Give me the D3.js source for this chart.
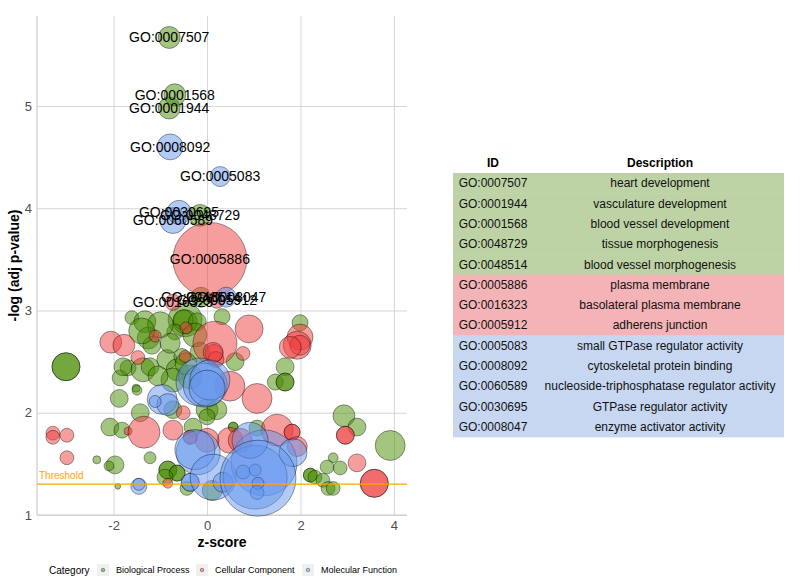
<!doctype html>
<html lang="en">
<head>
<meta charset="utf-8">
<title>GO bubble plot</title>
<script src="https://d3js.org/d3.v7.min.js"></script>
<style>
  body { margin: 0; background: #fff; }
  text { font-family: Arial, "Liberation Sans", sans-serif; }
</style>
</head>
<body>
<script>
// categories and colours
var categories = ["Biological Process", "Cellular Component", "Molecular Function"];
var catColors  = ["#458B00", "#EE3B3B", "#6495ED"];
var rowColors  = ["#BDD3A6", "#F4B3B6", "#C7D7F2"];

// labelled terms (table rows)
var termIds   = ["GO:0007507","GO:0001944","GO:0001568","GO:0048729","GO:0048514",
                 "GO:0005886","GO:0016323","GO:0005912",
                 "GO:0005083","GO:0008092","GO:0060589","GO:0030695","GO:0008047"];
var termNames = ["heart development","vasculature development","blood vessel development",
                 "tissue morphogenesis","blood vessel morphogenesis",
                 "plasma membrane","basolateral plasma membrane","adherens junction",
                 "small GTPase regulator activity","cytoskeletal protein binding",
                 "nucleoside-triphosphatase regulator activity","GTPase regulator activity",
                 "enzyme activator activity"];
var termCat   = [0,0,0,0,0, 1,1,1, 2,2,2,2,2];
var termZ     = [-0.81,-0.81,-0.69,-0.15,-0.13, 0.06,-0.73,0.21, 0.28,-0.79,-0.73,-0.60,0.41];
var termLogP  = [5.67,4.98,5.11,3.93,3.13, 3.50,3.08,3.10, 4.31,4.60,3.88,3.96,3.13];
var termCount = [30,30,30,30,25, 342,16,16, 25,42,42,36,25];

// other terms: [z-score, -log adj p, count]
var bpPoints = [
  [-1.61,2.93,12],[-1.33,2.89,30],[-1.26,2.73,30],[-1.18,2.66,20],[-0.47,2.91,72],
  [-0.47,2.89,36],[-0.51,2.91,25],[-0.69,2.79,16],[0.32,2.94,16],[-0.21,2.89,20],
  [1.99,2.88,16],[0.60,2.50,20],[1.67,2.45,20],[1.46,2.30,16],[1.67,2.30,20],
  [1.67,2.30,20],[-3.02,2.45,49],[-3.02,2.45,49],[-1.86,2.34,16],[-1.52,2.24,4],
  [-1.88,2.14,20],[-1.69,2.44,16],[-1.80,2.45,20],[-1.37,2.42,36],[-1.22,2.45,20],
  [-0.86,2.52,25],[-0.64,2.42,30],[-0.73,2.32,36],[-0.36,2.35,36],[-0.54,2.55,16],
  [-1.50,2.22,6],[0.00,2.03,30],[-2.08,1.86,20],[-1.82,1.83,16],[-2.36,1.54,4],
  [-1.97,1.49,20],[-2.10,1.48,6],[-1.22,1.56,9],[-1.91,1.28,2],[-1.43,2.00,20],
  [-0.84,1.44,20],[-0.84,1.44,20],[-0.64,1.41,16],[-0.64,1.41,16],[-0.90,1.37,16],
  [0.56,1.86,6],[0.56,1.86,6],[0.21,2.03,25],[0.00,1.96,16],[-0.73,2.03,20],
  [2.93,1.97,30],[3.21,1.86,20],[3.92,1.68,56],[2.70,1.56,6],[2.57,1.47,12],
  [2.85,1.46,12],[2.21,1.39,12],[2.21,1.39,12],[2.31,1.37,12],[2.48,1.34,12],
  [2.59,1.26,12],[2.70,1.26,12],[1.07,1.85,16],[0.11,1.24,25],[-0.43,1.26,12],
  [-1.00,2.86,42],[-0.26,2.76,36],[-0.15,2.59,25],[-0.79,2.68,25],[-1.40,2.80,42],
  [-0.45,2.48,30],[-1.05,2.36,25],[-0.30,1.86,20]
];
var ccPoints = [
  [-1.11,2.75,9],[-0.45,2.83,9],[-2.06,2.69,30],[-1.78,2.66,30],[0.90,2.82,49],
  [0.17,2.68,121],[0.15,2.58,20],[0.19,2.52,16],[0.77,2.58,12],[0.13,2.59,25],
  [1.99,2.74,42],[1.93,2.66,49],[1.99,2.66,25],[1.78,2.64,30],[1.07,2.14,56],
  [-1.48,2.54,12],[-0.47,2.55,9],[0.49,2.26,56],[-3.30,1.80,12],[-3.30,1.76,12],
  [-3.00,1.78,12],[-3.00,1.56,12],[-1.69,1.82,4],[-1.35,1.81,64],[-0.84,1.31,6],
  [-0.51,2.00,12],[0.49,1.73,42],[0.00,1.73,36],[1.50,1.83,64],[1.82,1.81,16],
  [1.82,1.81,16],[1.93,1.67,25],[-0.36,1.76,12],[-0.36,1.76,12],[2.96,1.78,20],
  [2.96,1.78,20],[3.21,1.51,20],[3.58,1.31,49],[3.58,1.31,49],[-0.73,1.83,25],
  [0.71,1.73,36]
];
var mfPoints = [
  [-0.96,2.13,56],[-0.84,2.08,30],[-1.11,2.11,9],[-0.15,2.30,144],[-0.04,2.27,121],
  [0.06,2.32,100],[0.00,2.24,81],[-1.46,1.28,16],[-1.46,1.30,9],[-0.36,1.32,20],
  [-0.36,1.32,20],[-0.19,1.61,121],[-0.26,1.64,100],[0.13,1.37,132],[0.34,1.32,25],
  [1.22,1.51,272],[1.03,1.37,256],[0.92,1.73,81],[1.84,1.61,49],[0.77,1.42,12],
  [1.03,1.44,9],[1.09,1.31,9],[1.09,1.31,9],[1.07,1.22,12],[1.09,1.36,361]
];

var xTicks = [-2, 0, 2, 4];
var yTicks = [1, 2, 3, 4, 5];
var threshold = -Math.log10(0.05);

var W = 812, H = 586;
var panel = {left: 37, right: 407, top: 16, bottom: 515};

var svg = d3.select("body").append("svg")
  .attr("width", W).attr("height", H);

var x = d3.scaleLinear().domain([-3.64, 4.28]).range([panel.left, panel.right]);
var y = d3.scaleLinear().domain([1, 5.88]).range([panel.bottom, panel.top]);
var r = d3.scaleSqrt().domain([0, 400]).range([0, 40]);

// grid
var g = svg.append("g");
g.append("g").attr("transform", "translate(0," + panel.bottom + ")")
  .call(d3.axisBottom(x).tickValues(xTicks).tickSize(-(panel.bottom - panel.top)).tickFormat(""))
  .call(a => a.select(".domain").remove())
  .selectAll("line").attr("stroke", "#D6D6D6").attr("stroke-width", 1);
g.append("g").attr("transform", "translate(" + panel.left + ",0)")
  .call(d3.axisLeft(y).tickValues(yTicks).tickSize(-(panel.right - panel.left)).tickFormat(""))
  .call(a => a.select(".domain").remove())
  .selectAll("line").attr("stroke", "#D6D6D6").attr("stroke-width", 1);

// axis lines
svg.append("line").attr("x1", panel.left).attr("x2", panel.left)
  .attr("y1", panel.top).attr("y2", panel.bottom).attr("stroke", "#CCCCCC").attr("stroke-width", 1.2);
svg.append("line").attr("x1", panel.left).attr("x2", panel.right)
  .attr("y1", panel.bottom).attr("y2", panel.bottom).attr("stroke", "#CCCCCC").attr("stroke-width", 1.2);

// tick labels
var xa = svg.append("g").attr("transform", "translate(0," + panel.bottom + ")")
  .call(d3.axisBottom(x).tickValues(xTicks).tickSize(0).tickPadding(6).tickFormat(d3.format("d")));
xa.select(".domain").remove();
xa.selectAll("text").attr("font-size", 13).attr("fill", "#4D4D4D")
  .attr("font-family", "Arial, 'Liberation Sans', sans-serif")
  .text(d => d < 0 ? "-" + Math.abs(d) : d);

var ya = svg.append("g").attr("transform", "translate(" + panel.left + ",0)")
  .call(d3.axisLeft(y).tickValues(yTicks).tickSize(0).tickPadding(5).tickFormat(d3.format("d")));
ya.select(".domain").remove();
ya.selectAll("text").attr("font-size", 13).attr("fill", "#4D4D4D")
  .attr("font-family", "Arial, 'Liberation Sans', sans-serif");

// axis titles
svg.append("text").attr("x", (panel.left + panel.right) / 2).attr("y", 547)
  .attr("text-anchor", "middle").attr("font-size", 14).attr("font-weight", "bold").text("z-score");
svg.append("text").attr("transform", "translate(19," + (panel.top + panel.bottom) / 2 + ") rotate(-90)")
  .attr("text-anchor", "middle").attr("font-size", 14).attr("font-weight", "bold").text("-log (adj p-value)");

// build point table, drawn in category order
var points = [];
[bpPoints, ccPoints, mfPoints].forEach(function(arr, ci) {
  arr.forEach(function(p) { points.push({z: p[0], p: p[1], n: p[2], cat: ci}); });
  termIds.forEach(function(id, i) {
    if (termCat[i] === ci) points.push({z: termZ[i], p: termLogP[i], n: termCount[i], cat: ci, id: id});
  });
});

svg.append("clipPath").attr("id", "clip").append("rect")
  .attr("x", panel.left).attr("y", panel.top)
  .attr("width", panel.right - panel.left).attr("height", panel.bottom - panel.top + 40);

svg.append("g").attr("clip-path", "url(#clip)")
  .selectAll("circle").data(points).enter().append("circle")
  .attr("cx", d => x(d.z)).attr("cy", d => y(d.p)).attr("r", d => r(d.n))
  .attr("fill", d => catColors[d.cat]).attr("fill-opacity", 0.5)
  .attr("stroke", "#000").attr("stroke-opacity", 0.55).attr("stroke-width", 0.7);

// threshold
svg.append("line").attr("x1", panel.left).attr("x2", panel.right)
  .attr("y1", y(threshold)).attr("y2", y(threshold))
  .attr("stroke", "orange").attr("stroke-width", 1.2);
svg.append("text").attr("x", panel.left + 2).attr("y", y(threshold) - 5)
  .attr("font-size", 10).attr("fill", "orange").text("Threshold");

// labels (they overlap in the original too)
svg.append("g").selectAll("text").data(points.filter(d => d.id)).enter().append("text")
  .attr("x", d => x(d.z)).attr("y", d => y(d.p)).attr("dy", "0.35em")
  .attr("text-anchor", "middle").attr("font-size", 14).attr("fill", "#000")
  .text(d => d.id);

// legend
var lg = svg.append("g").attr("transform", "translate(0,570)");
lg.append("text").attr("x", 49).attr("y", 0).attr("dy", "0.35em").attr("font-size", 10).text("Category");
var legX = [97, 196, 302];
categories.forEach(function(c, i) {
  lg.append("rect").attr("x", legX[i]).attr("y", -6).attr("width", 12).attr("height", 12).attr("fill", "#F0F0F0");
  lg.append("circle").attr("cx", legX[i] + 6).attr("cy", 0).attr("r", 1.8)
    .attr("fill", catColors[i]).attr("fill-opacity", 0.5).attr("stroke", "#000").attr("stroke-opacity", 0.55).attr("stroke-width", 0.6);
  lg.append("text").attr("x", legX[i] + 19).attr("y", 0).attr("dy", "0.35em").attr("font-size", 9).text(c);
});

// table
var tbl = {left: 453, right: 784, idRight: 533, top: 173, rowH: 20.3};
var tg = svg.append("g");
tg.append("text").attr("x", (tbl.left + tbl.idRight) / 2 ).attr("y", 163).attr("dy", "0.35em")
  .attr("text-anchor", "middle").attr("font-size", 12).attr("font-weight", "bold").text("ID");
tg.append("text").attr("x", 660).attr("y", 163).attr("dy", "0.35em")
  .attr("text-anchor", "middle").attr("font-size", 12).attr("font-weight", "bold").text("Description");
var rows = tg.selectAll("g.row").data(termIds).enter().append("g")
  .attr("transform", (d, i) => "translate(0," + (tbl.top + i * tbl.rowH) + ")");
rows.append("rect").attr("x", tbl.left).attr("width", tbl.right - tbl.left).attr("height", tbl.rowH + 0.5)
  .attr("fill", (d, i) => rowColors[termCat[i]]);
rows.append("text").attr("x", (tbl.left + tbl.idRight) / 2).attr("y", tbl.rowH / 2).attr("dy", "0.35em")
  .attr("text-anchor", "middle").attr("font-size", 12).attr("fill", "#111").text(d => d);
rows.append("text").attr("x", 660).attr("y", tbl.rowH / 2).attr("dy", "0.35em")
  .attr("text-anchor", "middle").attr("font-size", 12).attr("fill", "#111").text((d, i) => termNames[i]);
</script>
</body>
</html>
